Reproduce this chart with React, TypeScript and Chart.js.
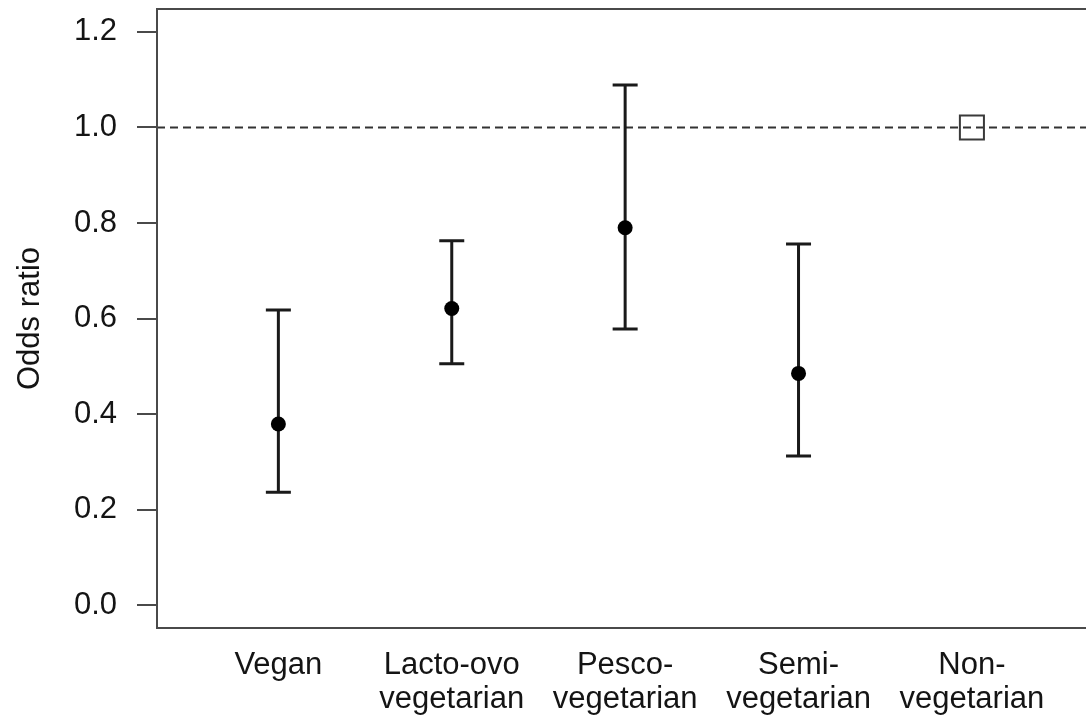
import React, { useEffect, useRef } from "react";
import { Chart, registerables } from "chart.js";

Chart.register(...registerables);

const categories: (string | string[])[] = [
  "Vegan",
  ["Lacto-ovo", "vegetarian"],
  ["Pesco-", "vegetarian"],
  ["Semi-", "vegetarian"],
  ["Non-", "vegetarian"],
];
const oddsRatio = [0.379, 0.621, 0.79, 0.485, 1.0];
const lowerCI: (number | null)[] = [0.236, 0.505, 0.578, 0.312, null];
const upperCI: (number | null)[] = [0.618, 0.763, 1.089, 0.756, null];
const yTicks = [0, 0.2, 0.4, 0.6, 0.8, 1.0, 1.2];
const referenceValue = 1.0;

const FONT = "'Liberation Sans', Arial, sans-serif";
const TEXT = "#141414";
const FRAME = "#4a4a4a";

const overlay = {
  id: "overlay",
  beforeDatasetsDraw(chart: any) {
    const { ctx, chartArea, scales } = chart;
    const x = scales.x;
    const y = scales.y;
    ctx.save();
    // reference dashed line
    const yr = y.getPixelForValue(referenceValue);
    ctx.strokeStyle = "#333";
    ctx.lineWidth = 2;
    ctx.setLineDash([8, 5]);
    ctx.beginPath();
    ctx.moveTo(chartArea.left, yr);
    ctx.lineTo(chartArea.right, yr);
    ctx.stroke();
    ctx.setLineDash([]);
    // error bars
    ctx.strokeStyle = "#1a1a1a";
    ctx.lineWidth = 3;
    const cap = 12.5;
    for (let i = 0; i < oddsRatio.length; i++) {
      const lo = lowerCI[i];
      const hi = upperCI[i];
      if (lo == null || hi == null) continue;
      const px = x.getPixelForValue(i);
      const pl = y.getPixelForValue(lo);
      const ph = y.getPixelForValue(hi);
      ctx.beginPath();
      ctx.moveTo(px, pl);
      ctx.lineTo(px, ph);
      ctx.moveTo(px - cap, pl);
      ctx.lineTo(px + cap, pl);
      ctx.moveTo(px - cap, ph);
      ctx.lineTo(px + cap, ph);
      ctx.stroke();
    }
    ctx.restore();
  },
  afterDraw(chart: any) {
    const { ctx, chartArea } = chart;
    ctx.save();
    ctx.strokeStyle = FRAME;
    ctx.lineWidth = 2;
    ctx.beginPath();
    ctx.moveTo(chartArea.right + 2, chartArea.top);
    ctx.lineTo(chartArea.left, chartArea.top);
    ctx.lineTo(chartArea.left, chartArea.bottom);
    ctx.lineTo(chartArea.right + 2, chartArea.bottom);
    ctx.stroke();
    ctx.restore();
  },
};

export default function App() {
  const ref = useRef<HTMLCanvasElement | null>(null);
  useEffect(() => {
    if (!ref.current) return;
    const chart = new Chart(ref.current, {
      type: "scatter",
      data: {
        datasets: [
          {
            data: oddsRatio.map((v, i) => ({ x: i, y: v })),
            pointStyle: oddsRatio.map((_, i) => (i === 4 ? "rect" : "circle")) as any,
            pointRadius: oddsRatio.map((_, i) => (i === 4 ? 17 : 7.5)),
            pointBackgroundColor: oddsRatio.map((_, i) => (i === 4 ? "rgba(0,0,0,0)" : "#000")),
            pointBorderColor: oddsRatio.map((_, i) => (i === 4 ? "#3a3a3a" : "#000")),
            pointBorderWidth: oddsRatio.map((_, i) => (i === 4 ? 2 : 0)),
          },
        ],
      },
      options: {
        responsive: false,
        animation: false,
        layout: { autoPadding: false, padding: { top: 9, right: 0, left: 0, bottom: 0 } },
        plugins: { legend: { display: false }, tooltip: { enabled: false } },
        scales: {
          x: {
            type: "linear",
            min: -0.7,
            max: 4.658,
            grid: { display: false, drawTicks: false },
            border: { display: false },
            afterFit: (s: any) => {
              s.height = 91;
              s.paddingLeft = 0;
              s.paddingRight = 0;
            },
            afterBuildTicks: (s: any) => {
              s.ticks = categories.map((_, i) => ({ value: i }));
            },
            ticks: {
              autoSkip: false,
              maxRotation: 0,
              padding: 20,
              color: TEXT,
              font: { family: FONT, size: 31, lineHeight: 1.1 },
              callback: (v: any) => categories[Number(v)] as any,
            },
          },
          y: {
            min: -0.048,
            max: 1.248,
            grid: { drawOnChartArea: false, drawTicks: true, tickLength: 20, color: FRAME, lineWidth: 2 },
            border: { display: false },
            afterFit: (s: any) => {
              s.width = 157;
              s.paddingTop = 0;
              s.paddingBottom = 0;
            },
            afterBuildTicks: (s: any) => {
              s.ticks = yTicks.map((v) => ({ value: v }));
            },
            ticks: {
              padding: 20,
              color: TEXT,
              font: { family: FONT, size: 31 },
              callback: (v: any) => Number(v).toFixed(1),
            },
            title: {
              display: true,
              text: "Odds ratio",
              color: TEXT,
              font: { family: FONT, size: 31, lineHeight: 1.2 },
              padding: { top: 12, bottom: 0 },
            },
          },
        },
      },
      plugins: [overlay],
    });
    return () => chart.destroy();
  }, []);
  return (
    <div style={{ position: "absolute", left: 0, top: 0, width: 1086, height: 719, background: "#fff" }}>
      <canvas ref={ref} width={1086} height={719} style={{ display: "block" }} />
    </div>
  );
}
